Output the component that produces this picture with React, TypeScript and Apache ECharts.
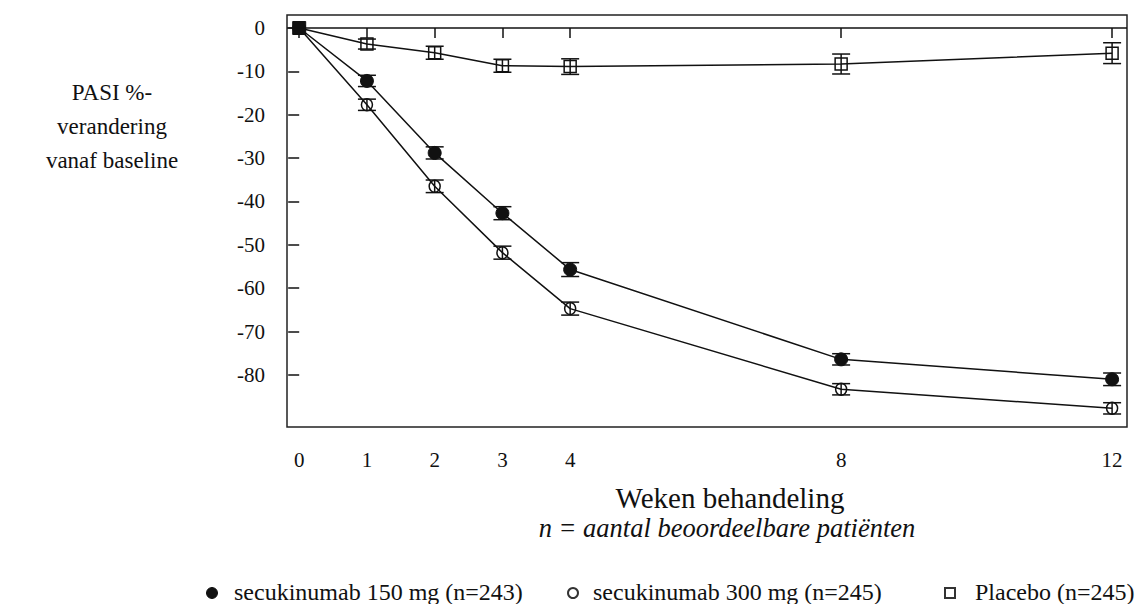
import React, { useEffect, useRef } from "react";
import * as echarts from "echarts";

const weeks = [0, 1, 2, 3, 4, 8, 12];
const xTicks = [0, 1, 2, 3, 4, 8, 12];
const yTicks = [0, -10, -20, -30, -40, -50, -60, -70, -80];

const mean150 = [0, -12.2, -28.8, -42.7, -55.7, -76.4, -81.0];
const err150 = [0, 1.3, 1.4, 1.5, 1.6, 1.3, 1.45];
const mean300 = [0, -17.7, -36.5, -51.8, -64.7, -83.3, -87.7];
const err300 = [0, 1.3, 1.45, 1.5, 1.5, 1.3, 1.3];
const meanPlacebo = [0, -3.7, -5.7, -8.7, -8.9, -8.3, -5.8];
const errPlacebo = [0, 1.15, 1.5, 1.5, 1.8, 2.3, 2.4];

const names = [
  "secukinumab 150 mg (n=243)",
  "secukinumab 300 mg (n=245)",
  "Placebo (n=245)",
];
const yTitle = "PASI %-\nverandering\nvanaf baseline";
const xTitle = "Weken behandeling";
const xSubtitle = "n = aantal beoordeelbare patiënten";

const FONT = "'Liberation Serif', 'Times New Roman', serif";
const INK = "#111";

type Kind = "filled" | "open" | "square";

function makeRender(kind: Kind) {
  return (params: any, api: any) => {
    const x = api.value(0);
    const y = api.value(1);
    const e = api.value(2);
    const c = api.coord([x, y]);
    const top = api.coord([x, y + e]);
    const bot = api.coord([x, y - e]);
    const children: any[] = [];
    const ls = { stroke: INK, lineWidth: 1.5 };
    if (e > 0) {
      children.push({ type: "line", shape: { x1: c[0], y1: top[1], x2: c[0], y2: bot[1] }, style: ls });
      children.push({ type: "line", shape: { x1: c[0] - 9, y1: top[1], x2: c[0] + 9, y2: top[1] }, style: ls });
      children.push({ type: "line", shape: { x1: c[0] - 9, y1: bot[1], x2: c[0] + 9, y2: bot[1] }, style: ls });
    }
    if (kind === "filled") {
      children.push({ type: "circle", shape: { cx: c[0], cy: c[1], r: 6.5 }, style: { fill: INK, stroke: INK, lineWidth: 1 } });
    } else if (kind === "open") {
      children.push({ type: "ellipse", shape: { cx: c[0], cy: c[1], rx: 5.5, ry: 6 }, style: { fill: "none", stroke: INK, lineWidth: 1.5 } });
    } else {
      if (x === 0) {
        children.push({ type: "rect", shape: { x: c[0] - 6.5, y: c[1] - 6.5, width: 13, height: 13 }, style: { fill: INK, stroke: INK, lineWidth: 1 } });
      } else {
        children.push({ type: "rect", shape: { x: c[0] - 6, y: c[1] - 6, width: 12, height: 12 }, style: { fill: "none", stroke: INK, lineWidth: 1.5 } });
      }
    }
    return { type: "group", children };
  };
}

function pts(means: number[], errs: number[]) {
  return weeks.map((w, i) => [w, means[i], errs[i]]);
}

export default function App() {
  const ref = useRef<HTMLDivElement>(null);
  useEffect(() => {
    if (!ref.current) return;
    const chart = echarts.init(ref.current, null, { renderer: "svg" });
    const lineSeries = (name: string, means: number[], extra: any = {}) => ({
      type: "line",
      name,
      data: weeks.map((w, i) => [w, means[i]]),
      showSymbol: false,
      symbol: "none",
      lineStyle: { color: INK, width: 1.5 },
      itemStyle: { color: INK },
      z: 2,
      silent: true,
      ...extra,
    });
    const customSeries = (name: string, means: number[], errs: number[], kind: Kind, z: number) => ({
      type: "custom",
      name,
      data: pts(means, errs),
      renderItem: makeRender(kind),
      encode: { x: 0, y: 1 },
      z,
      silent: true,
    });
    const legendItems: any[] = [];
    const legendX = [212, 573, 950];
    const textX = [234, 593, 975];
    const ly = 592;
    legendItems.push({ type: "circle", shape: { cx: legendX[0], cy: ly + 1, r: 5.5 }, style: { fill: INK, stroke: INK } });
    legendItems.push({ type: "circle", shape: { cx: legendX[1], cy: ly + 1, r: 5 }, style: { fill: "none", stroke: "#333", lineWidth: 2 } });
    legendItems.push({ type: "rect", shape: { x: legendX[2] - 5, y: ly - 4, width: 10, height: 10 }, style: { fill: "none", stroke: "#333", lineWidth: 2 } });
    names.forEach((n, i) => {
      legendItems.push({
        type: "text",
        x: textX[i],
        y: ly,
        style: { text: n, fontFamily: FONT, fontSize: 24, fill: INK, textAlign: "left", textVerticalAlign: "middle" },
      });
    });

    chart.setOption({
      animation: false,
      backgroundColor: "#fff",
      grid: {
        left: 287,
        right: 8,
        top: 15,
        bottom: 177,
        show: true,
        borderColor: "#222",
        borderWidth: 1.5,
        backgroundColor: "transparent",
      },
      xAxis: {
        type: "value",
        min: -0.18,
        max: 12.22,
        offset: 2,
        axisLine: { show: false },
        axisTick: { show: true, customValues: xTicks, length: 10, lineStyle: { color: INK, width: 1.5 } },
        axisLabel: { customValues: xTicks, fontFamily: FONT, fontSize: 21, color: INK, margin: 20 },
        splitLine: { show: false },
      },
      yAxis: {
        type: "value",
        min: -92,
        max: 3,
        axisLine: { show: false },
        axisTick: { show: true, customValues: yTicks, length: 11, lineStyle: { color: INK, width: 1.5 } },
        axisLabel: { customValues: yTicks, fontFamily: FONT, fontSize: 21, color: INK, margin: 22 },
        splitLine: { show: false },
      },
      series: [
        lineSeries(names[0], mean150, {
          markLine: {
            silent: true,
            symbol: ["none", "none"],
            label: { show: false },
            lineStyle: { color: INK, width: 1.5, type: "solid" },
            data: [{ yAxis: 0 }],
          },
        }),
        lineSeries(names[1], mean300),
        lineSeries(names[2], meanPlacebo),
        customSeries(names[0], mean150, err150, "filled", 3),
        customSeries(names[1], mean300, err300, "open", 3),
        customSeries(names[2], meanPlacebo, errPlacebo, "square", 4),
      ],
      graphic: [
        {
          type: "text",
          x: 112,
          y: 126,
          style: { text: yTitle, fontFamily: FONT, fontSize: 23, lineHeight: 34, fill: INK, textAlign: "center", textVerticalAlign: "middle" },
        },
        {
          type: "text",
          x: 730,
          y: 498,
          style: { text: xTitle, fontFamily: FONT, fontSize: 29, fill: INK, textAlign: "center", textVerticalAlign: "middle" },
        },
        {
          type: "text",
          x: 727,
          y: 528,
          style: { text: xSubtitle, fontFamily: FONT, fontSize: 26.5, fontStyle: "italic", fill: INK, textAlign: "center", textVerticalAlign: "middle" },
        },
        ...legendItems,
      ],
    });
    return () => chart.dispose();
  }, []);
  return <div ref={ref} style={{ position: "fixed", left: 0, top: 0, width: 1135, height: 604, background: "#fff" }} />;
}
